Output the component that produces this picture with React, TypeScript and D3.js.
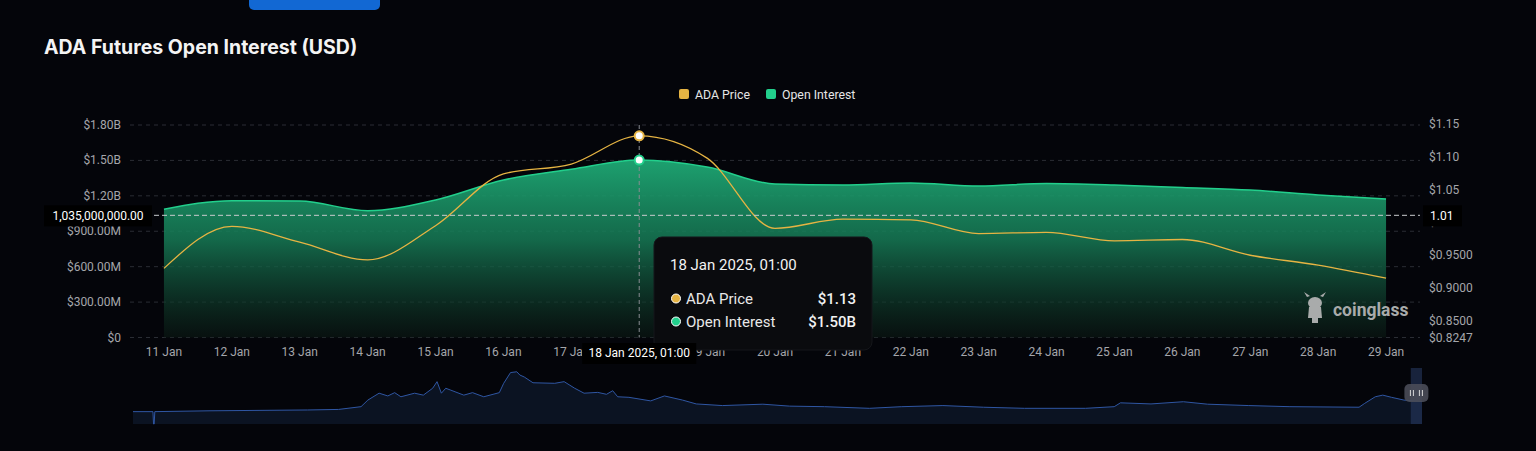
import React, { useEffect } from "react";
import * as d3 from "d3";

// ---------- data ----------
const dayLabels = ["11 Jan", "12 Jan", "13 Jan", "14 Jan", "15 Jan", "16 Jan", "17 Jan", "18 Jan", "19 Jan", "20 Jan", "21 Jan", "22 Jan", "23 Jan", "24 Jan", "25 Jan", "26 Jan", "27 Jan", "28 Jan", "29 Jan"];
const adaPrice = [0.930, 0.994, 0.970, 0.943, 0.995, 1.074, 1.089, 1.132, 1.098, 0.991, 1.005, 1.004, 0.983, 0.985, 0.972, 0.974, 0.950, 0.935, 0.915];
const openInterestB = [1.086, 1.159, 1.156, 1.074, 1.165, 1.334, 1.425, 1.503, 1.444, 1.300, 1.292, 1.309, 1.283, 1.304, 1.292, 1.271, 1.249, 1.207, 1.173];
const leftTickValues = [0, 0.3, 0.6, 0.9, 1.2, 1.5, 1.8];
const leftTickLabels = ["$0", "$300.00M", "$600.00M", "$900.00M", "$1.20B", "$1.50B", "$1.80B"];
const rightTickValues = [0.8247, 0.85, 0.9, 0.95, 1.0, 1.05, 1.1, 1.15];
const rightTickLabels = ["$0.8247", "$0.8500", "$0.9000", "$0.9500", "$1.00", "$1.05", "$1.10", "$1.15"];
const hoverIndex = 7;
const hoverLabel = "18 Jan 2025, 01:00";
const crosshairOI = 1.035;
const navDates = ["2019-06-01", "2019-07-03", "2019-07-04", "2019-07-05", "2019-07-06", "2019-10-01", "2020-03-07", "2020-04-26", "2020-06-01", "2020-06-12", "2020-06-30", "2020-07-14", "2020-07-25", "2020-08-04", "2020-08-26", "2020-09-09", "2020-09-24", "2020-10-01", "2020-10-08", "2020-10-15", "2020-10-22", "2020-11-13", "2020-11-27", "2020-12-15", "2021-01-09", "2021-01-16", "2021-01-27", "2021-02-06", "2021-02-11", "2021-02-18", "2021-03-04", "2021-04-08", "2021-04-23", "2021-05-10", "2021-05-25", "2021-06-16", "2021-06-30", "2021-07-10", "2021-07-18", "2021-08-05", "2021-09-09", "2021-10-01", "2021-10-30", "2021-11-21", "2022-01-02", "2022-03-08", "2022-04-20", "2022-06-15", "2022-08-26", "2022-10-17", "2022-12-22", "2023-02-25", "2023-05-02", "2023-08-08", "2023-09-23", "2023-10-03", "2023-11-21", "2024-01-12", "2024-02-20", "2024-04-26", "2024-07-01", "2024-10-20", "2024-10-29", "2024-11-15", "2024-11-27", "2024-12-11", "2024-12-31", "2025-01-13", "2025-01-29"];
const navValues = [0.45, 0.45, 0, 0, 0.45, 0.48, 0.51, 0.53, 0.63, 0.87, 1.12, 1.02, 1.14, 0.99, 1.12, 1.05, 1.30, 1.54, 1.12, 1.30, 1.24, 1.05, 1.14, 0.99, 1.14, 1.48, 1.87, 1.90, 1.78, 1.71, 1.50, 1.48, 1.54, 1.30, 1.12, 1.15, 1.08, 1.21, 0.99, 0.97, 0.84, 1.02, 0.87, 0.73, 0.67, 0.72, 0.65, 0.63, 0.57, 0.63, 0.67, 0.61, 0.57, 0.57, 0.63, 0.77, 0.73, 0.81, 0.72, 0.67, 0.63, 0.61, 0.75, 0.99, 1.05, 0.97, 0.87, 0.85, 0.82];
const navWindow = ["2025-01-11", "2025-01-29"];

const W = 1536;
const H = 451;
const BG = "#04050a";
const PRICE_COLOR = "#e6b443";
const OI_COLOR = "#22cf8c";

export default function App() {
  useEffect(() => {
    document.body.style.margin = "0";
    document.body.style.background = BG;
  }, []);

  const x = d3.scalePoint<string>().domain(dayLabels).range([130, 1420]).padding(0.5);
  const yL = d3.scaleLinear().domain([0, 1.8]).range([337.5, 125]);
  const yR = d3.scaleLinear().domain([0.8247, 1.15]).range([337.5, 124]);

  const oiPts = dayLabels.map((d, i) => [x(d) as number, openInterestB[i]] as [number, number]);
  const pricePts = dayLabels.map((d, i) => [x(d) as number, adaPrice[i]] as [number, number]);

  const area = d3.area<[number, number]>().x((d) => d[0]).y0(yL(0)).y1((d) => yL(d[1])).curve(d3.curveMonotoneX);
  const oiLine = d3.line<[number, number]>().x((d) => d[0]).y((d) => yL(d[1])).curve(d3.curveMonotoneX);
  const priceLine = d3.line<[number, number]>().x((d) => d[0]).y((d) => yR(d[1])).curve(d3.curveMonotoneX);

  const hx = x(dayLabels[hoverIndex]) as number;
  const chY = yL(crosshairOI);
  const chRight = yR.invert(chY).toFixed(2);
  const chLeft = d3.format(",.2f")(crosshairOI * 1e9);

  // navigator
  const parse = d3.timeParse("%Y-%m-%d");
  const nx = d3.scaleTime().domain([parse("2019-06-01") as Date, parse("2025-01-29") as Date]).range([133, 1422]);
  const ny = d3.scaleLinear().domain([0, 2]).range([424, 369]);
  const navPts = navDates.map((d, i) => [nx(parse(d) as Date), navValues[i]] as [number, number]);
  const navArea = d3.area<[number, number]>().x((d) => d[0]).y0(424).y1((d) => ny(d[1]));
  const navLine = d3.line<[number, number]>().x((d) => d[0]).y((d) => ny(d[1]));
  const wx0 = nx(parse(navWindow[0]) as Date);
  const wx1 = nx(parse(navWindow[1]) as Date);

  const axisFont = "Roboto, 'Noto Sans', sans-serif";
  const uiFont = "Inter, 'Noto Sans', sans-serif";

  // boxes that hide parts of the axis labels (as in the reference)
  const tipBox = { x: 654, y: 237, w: 218, h: 113 };
  const xBox = { x: hx - 57, y: 343, w: 114, h: 21 };
  const lBox = { x: 44, y: chY - 10, w: 108, h: 21 };
  const rBox = { x: 1423, y: chY - 10, w: 39, h: 21 };
  const rectPath = (b: { x: number; y: number; w: number; h: number }) =>
    `M${b.x},${b.y}h${b.w}v${b.h}h${-b.w}Z`;
  const clipD = `M0,0H${W}V${H}H0Z ` + [tipBox, xBox, lBox, rBox].map(rectPath).join(" ");

  return (
    <svg width={W} height={H} style={{ position: "absolute", left: 0, top: 0, display: "block" }}>
      <defs>
        <linearGradient id="oiGrad" x1="0" y1="0" x2="0" y2="1">
          <stop offset="0" stopColor="#1fae78" stopOpacity="0.92" />
          <stop offset="0.45" stopColor="#167a55" stopOpacity="0.85" />
          <stop offset="1" stopColor="#0b1a14" stopOpacity="0.55" />
        </linearGradient>
        <clipPath id="labelClip">
          <path d={clipD} clipRule="evenodd" />
        </clipPath>
      </defs>
      <rect x={0} y={0} width={W} height={H} fill={BG} />

      {/* top tab button */}
      <rect x={249} y={-10} width={131} height={20} rx={5} fill="#1268d3" />

      {/* title */}
      <text x={44} y={54} fill="#f4f4f4" fontFamily={uiFont} fontWeight={700} fontSize={19.5}>
        ADA Futures Open Interest (USD)
      </text>

      {/* legend */}
      <rect x={679} y={89} width={10} height={10} rx={2} fill={PRICE_COLOR} />
      <text x={695} y={98.5} fill="#e6e6e6" fontFamily={axisFont} fontSize={12.3}>ADA Price</text>
      <rect x={766} y={89} width={10} height={10} rx={2} fill={OI_COLOR} />
      <text x={782} y={98.5} fill="#e6e6e6" fontFamily={axisFont} fontSize={12.3}>Open Interest</text>

      {/* grid */}
      {leftTickValues.map((v) => (
        <line key={"g" + v} x1={130} x2={1420} y1={yL(v)} y2={yL(v)} stroke="#2a2d34" strokeWidth={1} strokeDasharray="4 4" />
      ))}

      {/* area + lines */}
      <path d={area(oiPts) || ""} fill="url(#oiGrad)" />
      <path d={oiLine(oiPts) || ""} fill="none" stroke={OI_COLOR} strokeWidth={1.5} />
      <path d={priceLine(pricePts) || ""} fill="none" stroke={PRICE_COLOR} strokeWidth={1.3} />

      <g clipPath="url(#labelClip)">
        {/* left axis labels */}
        {leftTickValues.map((v, i) => (
          <text key={"l" + v} x={121} y={yL(v) + 4} textAnchor="end" fill="#a4a6ab" fontFamily={axisFont} fontSize={12}>
            {leftTickLabels[i]}
          </text>
        ))}
        {/* right axis labels */}
        {rightTickValues.map((v, i) => (
          <text key={"r" + v} x={1429} y={yR(v) + 4} fill="#a4a6ab" fontFamily={axisFont} fontSize={12}>
            {rightTickLabels[i]}
          </text>
        ))}
        {/* x axis labels */}
        {dayLabels.map((d) => (
          <text key={"x" + d} x={x(d) as number} y={356} textAnchor="middle" fill="#a4a6ab" fontFamily={axisFont} fontSize={12}>
            {d}
          </text>
        ))}
      </g>

      {/* crosshair */}
      <line x1={hx} x2={hx} y1={125} y2={337.5} stroke="#8a8d93" strokeWidth={1} strokeDasharray="4 3" />
      <line x1={130} x2={1420} y1={chY} y2={chY} stroke="#c9cbcf" strokeWidth={1} strokeDasharray="5 3" />

      {/* hovered points */}
      <circle cx={hx} cy={yR(adaPrice[hoverIndex])} r={4.5} fill="#ffffff" stroke={PRICE_COLOR} strokeWidth={2} />
      <circle cx={hx} cy={yL(openInterestB[hoverIndex])} r={4.5} fill="#ffffff" stroke={OI_COLOR} strokeWidth={2} />

      {/* watermark */}
      <g fill="#a9abab">
        <ellipse cx={1315} cy={303} rx={7} ry={6} />
        <path d="M1307 297 L1304 292 L1310 296 Z" />
        <path d="M1323 297 L1326 292 L1320 296 Z" />
        <path d="M1309 307 L1321 307 L1322 318 L1318 318 L1318 323 L1312 323 L1312 318 L1308 318 Z" />
        <text x={1333} y={316} fontFamily={axisFont} fontWeight={700} fontSize={17.5}>coinglass</text>
      </g>

      {/* tooltip */}
      <rect x={tipBox.x} y={tipBox.y} width={tipBox.w} height={tipBox.h} rx={8} fill="#0a0b0e" stroke="#15171b" strokeWidth={1} />
      <text x={670} y={270} fill="#f2f2f2" fontFamily={axisFont} fontSize={15}>{hoverLabel}</text>
      <circle cx={676} cy={298.5} r={4.5} fill={PRICE_COLOR} stroke="#ffffff" strokeWidth={1} />
      <text x={686} y={304} fill="#e8e8e8" fontFamily={axisFont} fontSize={15}>ADA Price</text>
      <text x={856} y={304} textAnchor="end" fill="#f2f2f2" fontFamily={axisFont} fontWeight={500} fontSize={15}>
        {"$" + adaPrice[hoverIndex].toFixed(2)}
      </text>
      <circle cx={676} cy={321.5} r={4.5} fill={OI_COLOR} stroke="#ffffff" strokeWidth={1} />
      <text x={686} y={327} fill="#e8e8e8" fontFamily={axisFont} fontSize={15}>Open Interest</text>
      <text x={856} y={327} textAnchor="end" fill="#f2f2f2" fontFamily={axisFont} fontWeight={500} fontSize={15}>
        {"$" + openInterestB[hoverIndex].toFixed(2) + "B"}
      </text>

      {/* axis pointer labels */}
      <rect x={lBox.x} y={lBox.y} width={lBox.w} height={lBox.h} fill="#000000" />
      <text x={98} y={chY + 4.5} textAnchor="middle" fill="#ffffff" fontFamily={axisFont} fontSize={12}>{chLeft}</text>
      <rect x={rBox.x} y={rBox.y} width={rBox.w} height={rBox.h} fill="#000000" />
      <text x={1430} y={chY + 4.5} fill="#ffffff" fontFamily={axisFont} fontSize={12}>{chRight}</text>
      <rect x={xBox.x} y={xBox.y} width={xBox.w} height={xBox.h} fill="#000000" />
      <text x={hx} y={357} textAnchor="middle" fill="#ffffff" fontFamily={axisFont} fontSize={12}>{hoverLabel}</text>

      {/* navigator */}
      <path d={navArea(navPts) || ""} fill="#0b1322" />
      <path d={navLine(navPts) || ""} fill="none" stroke="#2f56a3" strokeWidth={1} />
      <rect x={wx0} y={368} width={wx1 - wx0} height={56} fill="#2a3d66" fillOpacity={0.55} />
      <rect x={(wx0 + wx1) / 2 - 12} y={384} width={24} height={18} rx={5} fill="#4a4d58" fillOpacity={0.9} />
      <g stroke="#d8d8d8" strokeWidth={1}>
        <line x1={(wx0 + wx1) / 2 - 6} x2={(wx0 + wx1) / 2 - 6} y1={390} y2={396} />
        <line x1={(wx0 + wx1) / 2 - 3} x2={(wx0 + wx1) / 2 - 3} y1={390} y2={396} />
        <line x1={(wx0 + wx1) / 2 + 3} x2={(wx0 + wx1) / 2 + 3} y1={390} y2={396} />
        <line x1={(wx0 + wx1) / 2 + 6} x2={(wx0 + wx1) / 2 + 6} y1={390} y2={396} />
      </g>
    </svg>
  );
}
